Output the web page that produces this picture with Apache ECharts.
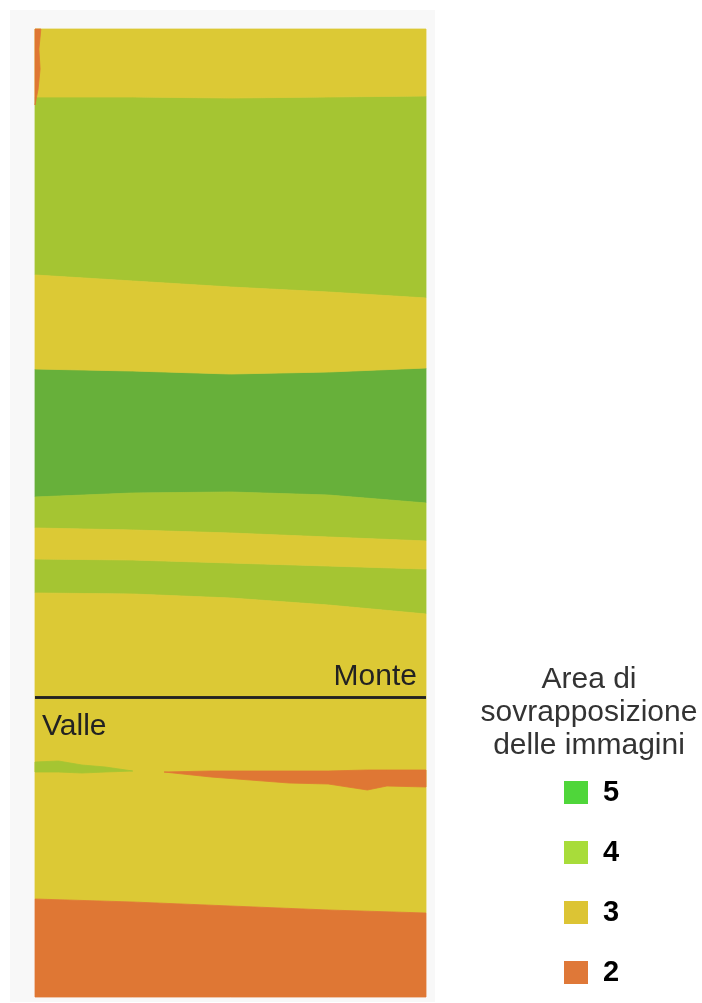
<!DOCTYPE html>
<html>
<head>
<meta charset="utf-8">
<script src="https://cdn.jsdelivr.net/npm/echarts@6/dist/echarts.min.js"></script>
<style>
  html, body { margin: 0; padding: 0; background: #ffffff; }
  #chart { width: 702px; height: 1003px; }
</style>
</head>
<body>
<div id="chart"></div>
<script>
// Sample positions across the strip (% of strip width)
const acrossPct = [0, 25, 50, 75, 100];

// Depth (cm from the top of the strip) of each band boundary at the acrossPct samples
const boundaryTop      = [0, 0, 0, 0, 0];
const boundary1        = [68, 68, 69, 68, 67];
const boundary2        = [246, 252, 258, 263, 269];
const boundary3        = [340, 342, 345, 343, 339];
const boundary4        = [468, 464, 463, 466, 474];
const boundary5        = [499, 501, 504, 508, 512];
const boundary6        = [530, 531, 534, 537, 540];
const boundary7        = [564, 565, 569, 576, 585];
const boundary8        = [870, 873, 877, 881, 884];
const boundaryBottom   = [968, 968, 968, 968, 968];

// Number of overlapping images in each band, top to bottom
const bandOverlap = [3, 4, 3, 5, 4, 3, 4, 3, 2];

// Thin green sliver on the left side (4 images)
const greenSliverX      = [0, 6, 12, 18, 25];
const greenSliverTop    = [733, 732, 736, 738, 742];
const greenSliverBottom = [743, 743, 744, 743, 742];

// Thin orange strip on the right side (2 images)
const orangeStripX      = [33, 45, 55, 65, 75, 85, 90, 100];
const orangeStripTop    = [743, 742, 742, 742, 742, 741, 741, 741];
const orangeStripBottom = [743, 748, 751, 754, 755, 761, 757, 758];

// Narrow orange edge along the top-left border (2 images)
const edgeSliverDepth = [0, 20, 40, 60, 76];
const edgeSliverWidth = [1.5, 1.0, 1.3, 0.8, 0];

// Monte / Valle dividing line depth
const monteValleDepth = 668;

// Legend levels and palettes
const levels = ['5', '4', '3', '2'];
const bandColors   = { '5': '#67b03a', '4': '#a5c532', '3': '#dcc935', '2': '#df7734' };
const legendColors = { '5': '#4fd63a', '4': '#a8dc3a', '3': '#dcc434', '2': '#df7838' };

const legendTitle = 'Area di\nsovrapposizione\ndelle immagini';
const upperLabel = 'Monte';
const lowerLabel = 'Valle';

const FONT = '"Liberation Sans", Arial, Helvetica, sans-serif';

// ---- build polygons in data space ----
const boundaries = [boundaryTop, boundary1, boundary2, boundary3, boundary4,
                    boundary5, boundary6, boundary7, boundary8, boundaryBottom];

function bandPolygon(xs, top, bottom) {
  const pts = xs.map((x, i) => [x, top[i]]);
  for (let i = xs.length - 1; i >= 0; i--) pts.push([xs[i], bottom[i]]);
  return pts;
}

const bandPolys = bandOverlap.map((v, i) => ({
  level: String(v),
  pts: bandPolygon(acrossPct, boundaries[i], boundaries[i + 1])
}));

const patchPolys = [
  { level: '4', pts: bandPolygon(greenSliverX, greenSliverTop, greenSliverBottom) },
  { level: '2', pts: bandPolygon(orangeStripX, orangeStripTop, orangeStripBottom) },
  { level: '2', pts: edgeSliverDepth.map((d, i) => [edgeSliverWidth[i], d])
                      .concat(edgeSliverDepth.slice().reverse().map(d => [0, d])) }
];

function centroid(pts) {
  let sx = 0, sy = 0;
  pts.forEach(p => { sx += p[0]; sy += p[1]; });
  return [sx / pts.length, sy / pts.length];
}

function polySeries(name, polys, z) {
  const color = bandColors[name];
  return {
    type: 'custom',
    name: name,
    z: z,
    silent: true,
    itemStyle: { color: color },
    data: polys.map(p => centroid(p.pts)),
    renderItem: function (params, api) {
      const poly = polys[params.dataIndex];
      return {
        type: 'polygon',
        shape: { points: poly.pts.map(p => api.coord(p)) },
        style: { fill: color, stroke: color, lineWidth: 0.8 }
      };
    }
  };
}

const series = [];
levels.forEach(l => {
  const polys = bandPolys.filter(p => p.level === l);
  series.push(polySeries(l, polys, 2));
});
levels.forEach(l => {
  const polys = patchPolys.filter(p => p.level === l);
  if (polys.length) series.push(polySeries(l, polys, 3));
});

// Dividing line with its two labels
series.push({
  type: 'line',
  name: 'divide',
  data: [],
  z: 5,
  markLine: {
    silent: true,
    symbol: 'none',
    animation: false,
    lineStyle: { color: '#222222', width: 2.5, type: 'solid' },
    data: [
      { yAxis: monteValleDepth,
        label: { show: true, formatter: upperLabel, position: 'insideEndTop',
                 distance: [9, 5],
                 fontFamily: FONT, fontSize: 30, color: '#222222' } },
      { yAxis: monteValleDepth,
        label: { show: true, formatter: lowerLabel, position: 'insideStartBottom',
                 distance: [7, 15],
                 fontFamily: FONT, fontSize: 30, color: '#222222' } }
    ]
  }
});

const chart = echarts.init(document.getElementById('chart'), null, { renderer: 'canvas' });
chart.setOption({
  animation: false,
  backgroundColor: '#ffffff',
  graphic: [{
    type: 'rect', left: 10, top: 10, z: -10,
    shape: { width: 425, height: 992 },
    style: { fill: '#f8f8f8' }
  }],
  title: {
    text: legendTitle,
    left: 584,
    top: 658,
    textAlign: 'center',
    textStyle: { fontFamily: FONT, fontSize: 30, fontWeight: 'normal',
                 color: '#333333', lineHeight: 33 }
  },
  legend: {
    orient: 'vertical',
    left: 559,
    top: 773,
    itemWidth: 24,
    itemHeight: 23,
    itemGap: 31,
    selectedMode: false,
    data: levels.map(l => ({ name: l, icon: 'rect', itemStyle: { color: legendColors[l] } })),
    textStyle: { fontFamily: FONT, fontSize: 29, fontWeight: 'bold', color: '#000000',
                 lineHeight: 23, padding: [0, 0, 0, 10] }
  },
  grid: { left: 35, top: 29, width: 391, height: 968, containLabel: false },
  xAxis: { type: 'value', min: 0, max: 100, show: false },
  yAxis: { type: 'value', min: 0, max: 968, inverse: true, show: false },
  series: series
});
</script>
</body>
</html>
